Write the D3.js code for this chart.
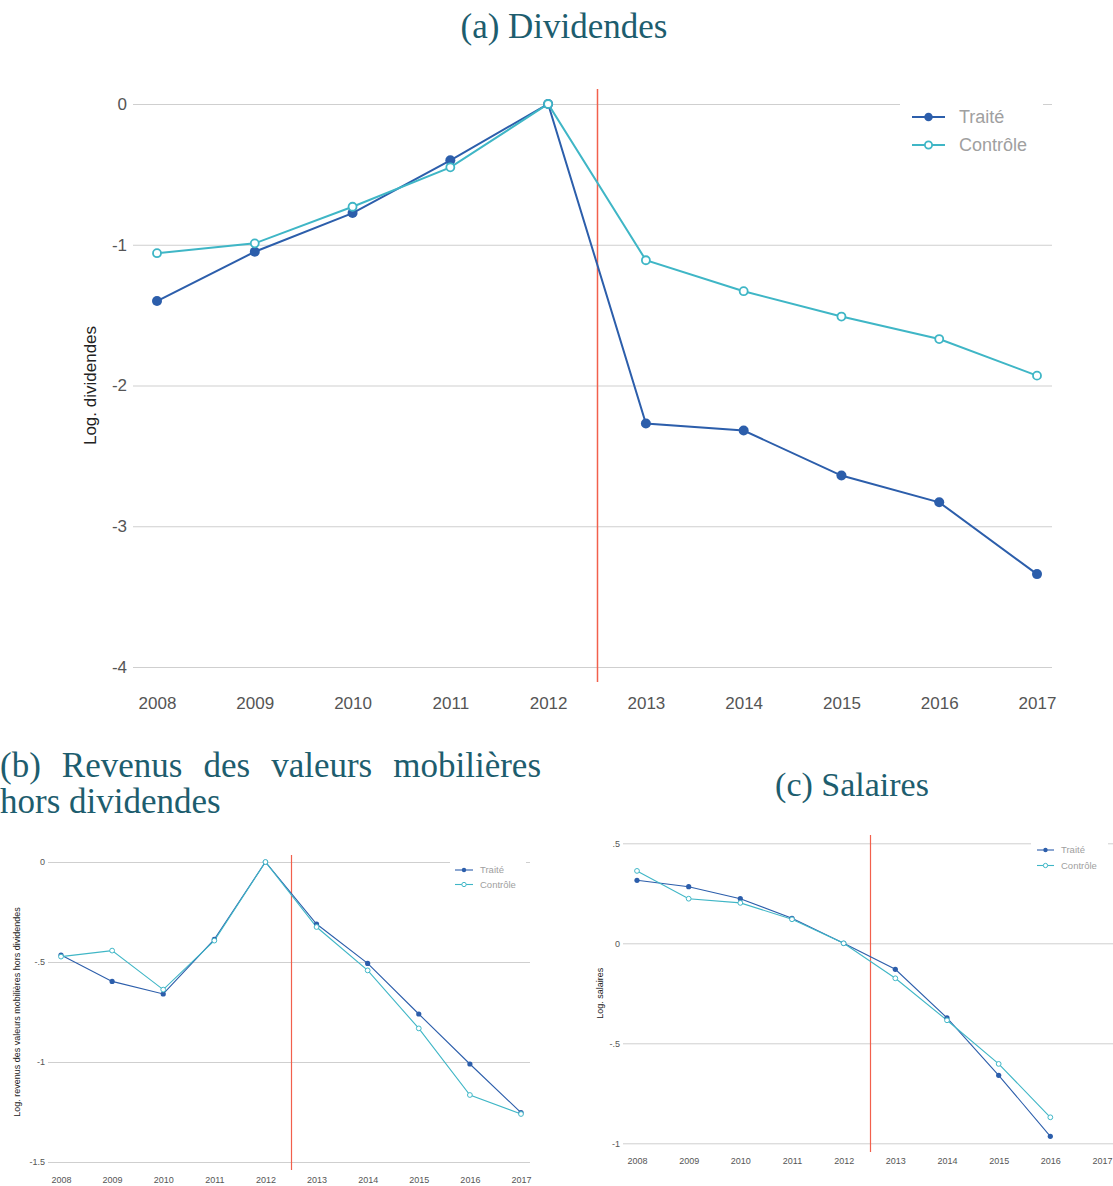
<!DOCTYPE html>
<meta charset="utf-8">
<style>
body { margin: 0; background: #fff; }
svg { display: block; }
.title { font-family: "Liberation Serif", serif; fill: #1d5d6e; }
.tick text { font-family: "Liberation Sans", Arial, sans-serif; fill: #555; }
.axis--y line { stroke: #cfcfcf; }
.axis path { display: none; }
.ylabel { font-family: "Liberation Sans", Arial, sans-serif; fill: #222; }
.legend text { font-family: "Liberation Sans", Arial, sans-serif; fill: #a0a0a0; }
</style>
<svg width="1113" height="1186"></svg>
<script src="https://cdn.jsdelivr.net/npm/d3@7"></script>
<script>

var years = [2008, 2009, 2010, 2011, 2012, 2013, 2014, 2015, 2016, 2017];

// (a) dividendes
var divTraite   = [-1.40, -1.05, -0.775, -0.40, 0, -2.27, -2.32, -2.64, -2.83, -3.34];
var divControle = [-1.06, -0.99, -0.73, -0.45, 0, -1.11, -1.33, -1.51, -1.67, -1.93];
var divTicks = [0, -1, -2, -3, -4];
var divTickLabels = ["0", "-1", "-2", "-3", "-4"];

// (b) revenus des valeurs mobilieres hors dividendes
var revTraite   = [-0.465, -0.597, -0.66, -0.387, 0, -0.31, -0.507, -0.76, -1.01, -1.253];
var revControle = [-0.473, -0.443, -0.638, -0.393, 0, -0.325, -0.542, -0.832, -1.165, -1.26];
var revTicks = [0, -0.5, -1, -1.5];
var revTickLabels = ["0", "-.5", "-1", "-1.5"];

// (c) salaires (pas de 2017)
var salTraite   = [0.315, 0.283, 0.223, 0.125, 0, -0.13, -0.373, -0.66, -0.965, null];
var salControle = [0.362, 0.223, 0.202, 0.12, 0, -0.175, -0.385, -0.603, -0.87, null];
var salTicks = [0.5, 0, -0.5, -1];
var salTickLabels = [".5", "0", "-.5", "-1"];

var seriesNames = ["Traité", "Contrôle"];
var cTraite = "#2c5eab",
    cControle = "#3fb6c6",
    cReform = "#f2604c";

var svg = d3.select("svg");

function panel(o) {
  var g = svg.append("g");

  var x = d3.scaleLinear().domain([2008, 2017]).range([o.x0, o.x1]);
  var y = d3.scaleLinear().domain(o.ydomain).range([o.ybottom, o.ytop]);

  // grid + y ticks
  g.append("g")
      .attr("class", "axis axis--y")
      .attr("transform", "translate(" + o.gx0 + ",0)")
      .call(d3.axisLeft(y)
        .tickValues(o.ticks)
        .tickSize(-(o.gx1 - o.gx0))
        .tickPadding(o.tpad)
        .tickFormat(function(d, i) { return o.tickLabels[i]; }))
    .selectAll("text")
      .style("font-size", o.fs + "px");

  // x ticks
  g.append("g")
      .attr("class", "axis axis--x")
      .attr("transform", "translate(0," + o.xaxisY + ")")
      .call(d3.axisBottom(x).tickValues(years).tickSize(0).tickPadding(o.xpad).tickFormat(d3.format("d")))
    .selectAll("text")
      .style("font-size", o.fs + "px");

  // reform line
  var rx = Math.round(x(2012.5)) + 0.5;
  g.append("line")
      .attr("x1", rx).attr("x2", rx)
      .attr("y1", o.redTop).attr("y2", o.redBottom)
      .attr("stroke", cReform)
      .attr("stroke-width", o.redW);

  // y label
  g.append("text")
      .attr("class", "ylabel")
      .attr("transform", "translate(" + o.ylabX + "," + (o.ytop + o.ybottom) / 2 + ") rotate(-90)")
      .attr("text-anchor", "middle")
      .attr("dy", "0.35em")
      .style("font-size", o.fs + "px")
      .text(o.ylabel);

  var line = d3.line()
      .defined(function(d) { return d != null; })
      .x(function(d, i) { return x(years[i]); })
      .y(function(d) { return y(d); });

  var series = [
    {name: seriesNames[0], values: o.traite, color: cTraite, filled: true},
    {name: seriesNames[1], values: o.controle, color: cControle, filled: false}
  ];

  series.forEach(function(s) {
    g.append("path")
        .datum(s.values)
        .attr("fill", "none")
        .attr("stroke", s.color)
        .attr("stroke-width", o.lw)
        .attr("d", line);
  });

  series.forEach(function(s) {
    g.selectAll(null)
        .data(s.values.map(function(v, i) { return {year: years[i], v: v}; })
          .filter(function(d) { return d.v != null; }))
      .enter().append("circle")
        .attr("cx", function(d) { return x(d.year); })
        .attr("cy", function(d) { return y(d.v); })
        .attr("r", s.filled ? o.rFill : o.rOpen)
        .attr("fill", s.filled ? s.color : "#fff")
        .attr("stroke", s.color)
        .attr("stroke-width", s.filled ? 0 : o.lw * 0.9);
  });

  // legend
  var lg = g.append("g").attr("class", "legend");
  lg.append("rect")
      .attr("x", o.leg.bx0).attr("width", o.leg.bx1 - o.leg.bx0)
      .attr("y", o.leg.y - o.leg.step * 0.9).attr("height", o.leg.step * 3)
      .attr("fill", "#fff");
  series.forEach(function(s, i) {
    var yy = o.leg.y + i * o.leg.step;
    lg.append("line")
        .attr("x1", o.leg.lx0).attr("x2", o.leg.lx1)
        .attr("y1", yy).attr("y2", yy)
        .attr("stroke", s.color).attr("stroke-width", o.lw);
    lg.append("circle")
        .attr("cx", (o.leg.lx0 + o.leg.lx1) / 2).attr("cy", yy)
        .attr("r", s.filled ? o.rFill * 0.85 : o.rOpen * 0.9)
        .attr("fill", s.filled ? s.color : "#fff")
        .attr("stroke", s.color)
        .attr("stroke-width", s.filled ? 0 : o.lw * 0.9);
    lg.append("text")
        .attr("x", o.leg.tx).attr("y", yy)
        .attr("dy", "0.35em")
        .style("font-size", o.leg.fs + "px")
        .text(s.name);
  });
}

panel({
  traite: divTraite, controle: divControle,
  ticks: divTicks, tickLabels: divTickLabels,
  ydomain: [-4, 0], ytop: 104, ybottom: 667,
  x0: 157, x1: 1037, gx0: 133, gx1: 1052,
  tpad: 6, xaxisY: 682, xpad: 15, fs: 17,
  redTop: 89, redBottom: 682, redW: 1.5, lw: 2, rFill: 5, rOpen: 4,
  ylabX: 90, ylabel: "Log. dividendes",
  leg: {bx0: 900, bx1: 1043, y: 117, step: 28, lx0: 912, lx1: 945, tx: 959, fs: 18}
});

panel({
  traite: revTraite, controle: revControle,
  ticks: revTicks, tickLabels: revTickLabels,
  ydomain: [-1.5, 0], ytop: 862, ybottom: 1162,
  x0: 61, x1: 521, gx0: 48, gx1: 530,
  tpad: 3, xaxisY: 1170, xpad: 7, fs: 9,
  redTop: 855, redBottom: 1170, redW: 1.2, lw: 1.1, rFill: 2.6, rOpen: 2.4,
  ylabX: 17, ylabel: "Log. revenus des valeurs mobilières hors dividendes",
  leg: {bx0: 450, bx1: 526, y: 870, step: 14.5, lx0: 455, lx1: 473, tx: 480, fs: 9.5}
});

panel({
  traite: salTraite, controle: salControle,
  ticks: salTicks, tickLabels: salTickLabels,
  ydomain: [-1, 0.5], ytop: 843.3, ybottom: 1143.3,
  x0: 637, x1: 1102, gx0: 623, gx1: 1113,
  tpad: 3, xaxisY: 1152, xpad: 6, fs: 9,
  redTop: 835, redBottom: 1152, redW: 1.2, lw: 1.1, rFill: 2.6, rOpen: 2.4,
  ylabX: 600, ylabel: "Log. salaires",
  leg: {bx0: 1031, bx1: 1108, y: 850, step: 15.5, lx0: 1037, lx1: 1054, tx: 1061, fs: 9.5}
});

// titles
svg.append("text")
    .attr("class", "title")
    .attr("x", 564).attr("y", 38)
    .attr("text-anchor", "middle")
    .style("font-size", "35px")
    .text("(a) Dividendes");

var tb = svg.append("text")
    .attr("class", "title")
    .attr("x", 0).attr("y", 777)
    .style("font-size", "35px")
    .text("(b) Revenus des valeurs mobilières");
// justified line: spread the extra room over the word gaps
var natural = tb.node().getComputedTextLength();
tb.style("word-spacing", ((541 - natural) / 4) + "px");

svg.append("text")
    .attr("class", "title")
    .attr("x", 0).attr("y", 813)
    .style("font-size", "35px")
    .text("hors dividendes");

svg.append("text")
    .attr("class", "title")
    .attr("x", 852).attr("y", 796)
    .attr("text-anchor", "middle")
    .style("font-size", "34px")
    .text("(c) Salaires");

</script>
